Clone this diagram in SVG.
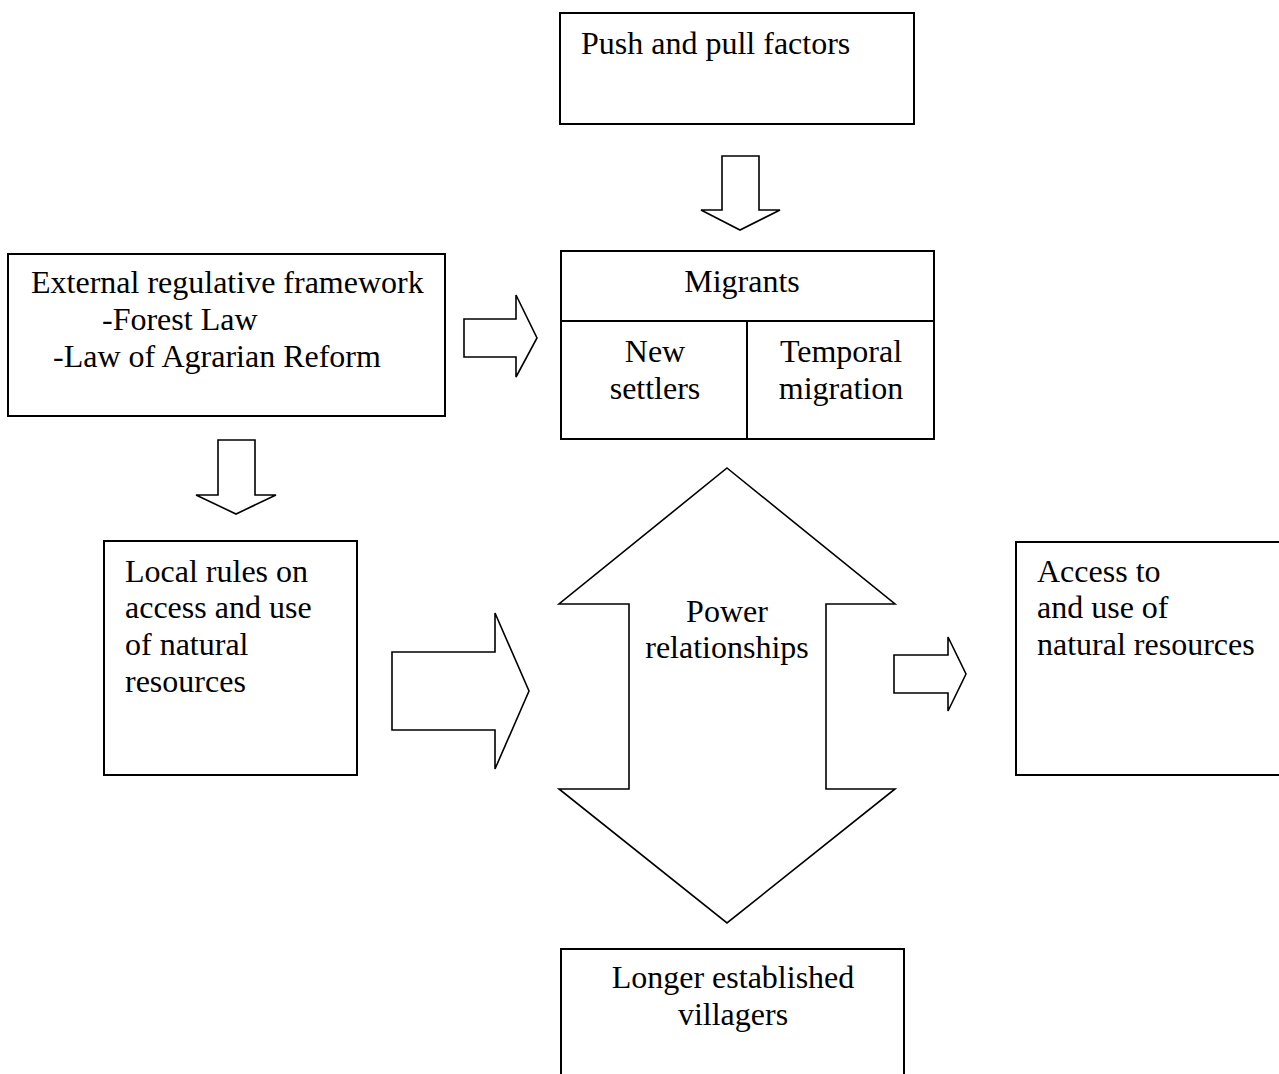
<svg xmlns="http://www.w3.org/2000/svg" width="1279" height="1074" viewBox="0 0 1279 1074">
<style>
.box{fill:none;stroke:#000;stroke-width:2}
.arr{fill:#fff;stroke:#000;stroke-width:1.6;stroke-linejoin:miter}
text{font-family:"Liberation Serif","Times New Roman",serif;font-size:32px;fill:#000}
.c{text-anchor:middle}
</style>
<rect width="1279" height="1074" fill="#fff"/>
<g id="push">
<rect class="box" x="560" y="13" width="354" height="111"/>
<text x="581" y="54">Push and pull factors</text>
</g>
<g id="external">
<rect class="box" x="8" y="254" width="437" height="162"/>
<text x="31" y="293">External regulative framework</text>
<text x="102" y="330">-Forest Law</text>
<text x="53" y="367">-Law of Agrarian Reform</text>
</g>
<g id="migrants">
<rect class="box" x="561" y="251" width="373" height="188"/>
<line class="box" x1="561" y1="321" x2="934" y2="321"/>
<line class="box" x1="747" y1="321" x2="747" y2="439"/>
<text class="c" x="742" y="292">Migrants</text>
<text class="c" x="655" y="362">New</text>
<text class="c" x="655" y="399">settlers</text>
<text class="c" x="841" y="362">Temporal</text>
<text class="c" x="841" y="399">migration</text>
</g>
<g id="local">
<rect class="box" x="104" y="541" width="253" height="234"/>
<text x="125" y="582">Local rules on</text>
<text x="125" y="618">access and use</text>
<text x="125" y="655">of natural</text>
<text x="125" y="692">resources</text>
</g>
<g id="power">
<polygon class="arr" points="727,468 895,604 826,604 826,789 895,789 727,923 559,789 629,789 629,604 559,604"/>
<text class="c" x="727" y="622">Power</text>
<text class="c" x="727" y="658">relationships</text>
</g>
<g id="access">
<path class="box" d="M1281,542 H1016 V775 H1281"/>
<text x="1037" y="582">Access to</text>
<text x="1037" y="618">and use of</text>
<text x="1037" y="655">natural resources</text>
</g>
<g id="villagers">
<path class="box" d="M561,1076 V949 H904 V1076"/>
<text class="c" x="733" y="988">Longer established</text>
<text class="c" x="733" y="1025">villagers</text>
</g>
<g id="connectors">
<polygon class="arr" points="722,156 759,156 759,210 780,210 740,230 701,210 722,210"/>
<polygon class="arr" points="464,319 516,319 516,295 537,338 516,377 516,357 464,357"/>
<polygon class="arr" points="218,440 255,440 255,495 276,495 236,514 196,495 218,495"/>
<polygon class="arr" points="392,652 495,652 495,613 529,691 495,769 495,730 392,730"/>
<polygon class="arr" points="894,655 948,655 948,637 966,674 948,711 948,693 894,693"/>
</g>
</svg>
